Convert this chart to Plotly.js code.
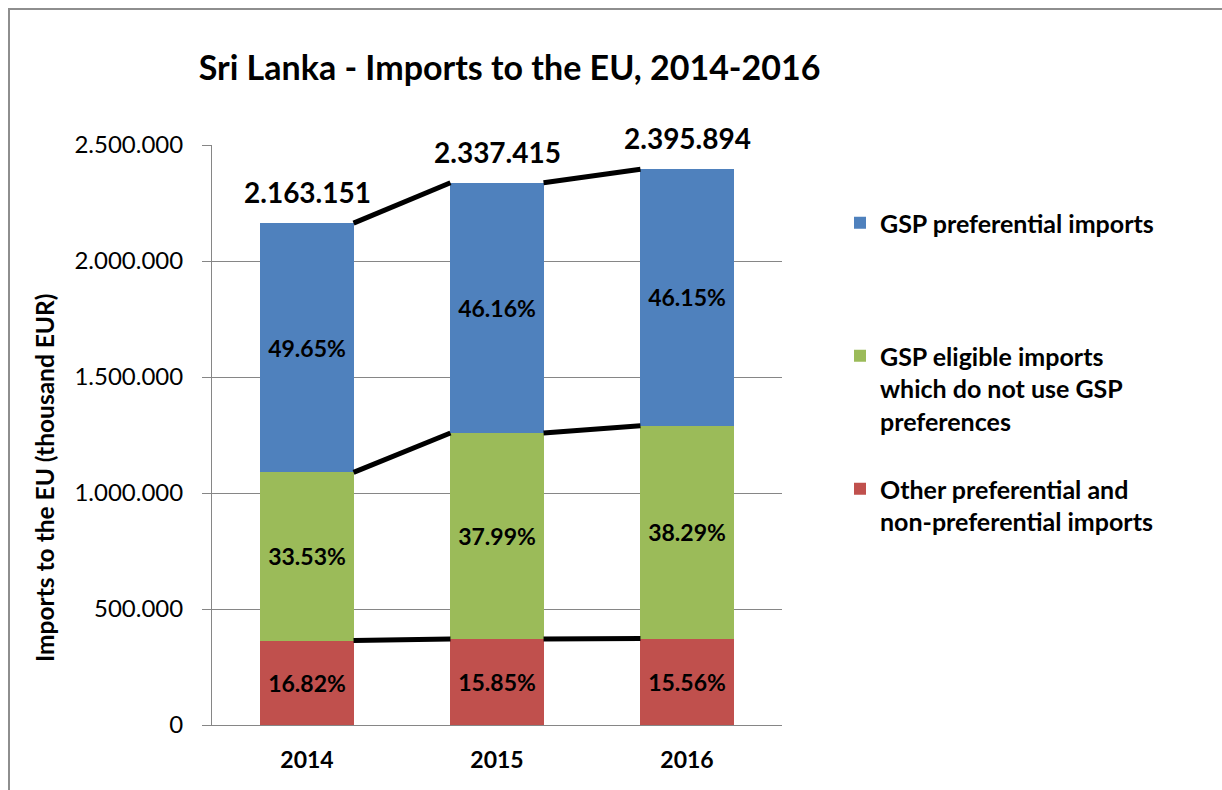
<!DOCTYPE html>
<html>
<head>
<meta charset="utf-8">
<script src="https://cdn.plot.ly/plotly-3.0.1.min.js"></script>
<style>
  html, body { margin: 0; padding: 0; background: #fff; }
  #chart { position: absolute; left: 0; top: 0; width: 1222px; height: 790px; }
  #frame { position: absolute; left: 8px; top: 8px; width: 1300px; height: 900px;
           border-left: 2px solid #8e8e8e; border-top: 2px solid #8e8e8e; pointer-events: none; }
</style>
</head>
<body>
<div id="chart"></div>
<div id="frame"></div>
<script>
// ---- data ----
const years = ['2014', '2015', '2016'];
const otherVals = [363842, 370480, 372801];        // Other preferential and non-preferential imports
const eligibleVals = [725305, 887984, 917388];     // GSP eligible imports which do not use GSP preferences
const prefVals = [1074004, 1078951, 1105705];      // GSP preferential imports
const otherPct = ['16.82%', '15.85%', '15.56%'];
const eligiblePct = ['33.53%', '37.99%', '38.29%'];
const prefPct = ['49.65%', '46.16%', '46.15%'];
const totalLabels = ['2.163.151', '2.337.415', '2.395.894'];
const yTicks = [0, 500000, 1000000, 1500000, 2000000, 2500000];

const NB = '<br>\u00a0';
const seriesNames = [
  'Other preferential and<br>non-preferential imports',
  'GSP eligible imports<br>which do not use GSP<br>preferences' + NB,
  'GSP preferential imports' + NB + NB + NB
];
const colors = ['#C0504D', '#9BBB59', '#4F81BD'];

// ---- build ----
const xIdx = years.map((_, i) => i);
const barW = 0.49;
const FONT = 'Lato, "Open Sans", sans-serif';

const pctFont = { family: FONT, size: 23, color: '#000', weight: 'bold' };

function barTrace(vals, txt, name, color) {
  return {
    type: 'bar', x: xIdx, y: vals, name: name, width: barW,
    marker: { color: color, line: { width: 0 } },
    text: txt, textposition: 'inside', insidetextanchor: 'middle',
    textangle: 0, constraintext: 'none',
    insidetextfont: pctFont, textfont: pctFont,
    hoverinfo: 'skip'
  };
}

const traces = [
  barTrace(otherVals, otherPct, seriesNames[0], colors[0]),
  barTrace(eligibleVals, eligiblePct, seriesNames[1], colors[1]),
  barTrace(prefVals, prefPct, seriesNames[2], colors[2])
];

// cumulative tops for connector lines
const cum1 = otherVals.slice();
const cum2 = otherVals.map((v, i) => v + eligibleVals[i]);
const cum3 = cum2.map((v, i) => v + prefVals[i]);

function connector(cum) {
  const xs = [], ys = [];
  for (let i = 0; i < cum.length - 1; i++) {
    xs.push(xIdx[i] + barW / 2, xIdx[i + 1] - barW / 2, null);
    ys.push(cum[i], cum[i + 1], null);
  }
  return { type: 'scatter', mode: 'lines', x: xs, y: ys, showlegend: false,
           line: { color: '#000', width: 5 }, hoverinfo: 'skip', cliponaxis: false };
}
traces.push(connector(cum1), connector(cum2), connector(cum3));

const annotations = xIdx.map((x, i) => ({
  x: x, y: cum3[i], xref: 'x', yref: 'y', text: totalLabels[i], showarrow: false,
  yanchor: 'bottom', yshift: 12,
  font: { family: FONT, size: 28, color: '#000', weight: 'bold' }
}));
annotations.push({
  xref: 'paper', yref: 'paper', x: -0.293, y: 0.4276, textangle: -90,
  text: 'Imports to the EU (thousand EUR)', showarrow: false,
  xanchor: 'center', yanchor: 'middle',
  font: { family: FONT, size: 24.5, color: '#000', weight: 'bold' }
});

const layout = {
  width: 1222, height: 790,
  margin: { l: 212, r: 440, t: 145, b: 65 },
  paper_bgcolor: '#fff', plot_bgcolor: '#fff',
  separators: ',.',
  barmode: 'stack',
  showlegend: true,
  title: {
    text: 'Sri Lanka - Imports to the EU, 2014-2016',
    xref: 'container', yref: 'container', x: 0.417, y: 1 - 68 / 790,
    xanchor: 'center', yanchor: 'middle',
    font: { family: FONT, size: 34, color: '#000', weight: 'bold' }
  },
  xaxis: {
    type: 'linear', range: [-0.5, 2.5], tickvals: xIdx, ticktext: years,
    showgrid: false, zeroline: false, showline: true, linecolor: '#868686', linewidth: 1,
    ticks: '', ticklabelstandoff: 14,
    tickfont: { family: FONT, size: 23, color: '#000', weight: 'bold' },
    fixedrange: true
  },
  yaxis: {
    range: [0, 2500000], tickvals: yTicks, tickformat: ',d',
    showgrid: true, gridcolor: '#868686', gridwidth: 1,
    zeroline: false, showline: true, linecolor: '#868686', linewidth: 1,
    ticks: 'outside', ticklen: 9, tickcolor: '#868686', tickwidth: 1,
    ticklabelstandoff: 14,
    tickfont: { family: FONT, size: 24, color: '#000' },
    fixedrange: true
  },
  legend: {
    x: (840 - 212) / 570, y: 1 - (200 - 145) / 580, xanchor: 'left', yanchor: 'top',
    traceorder: 'reversed', valign: 'top',
    bgcolor: 'rgba(0,0,0,0)', borderwidth: 0,
    font: { family: FONT, size: 25, color: '#000', weight: 'bold' }
  },
  annotations: annotations
};

Plotly.newPlot('chart', traces, layout, { displayModeBar: false, staticPlot: true });
</script>
</body>
</html>
